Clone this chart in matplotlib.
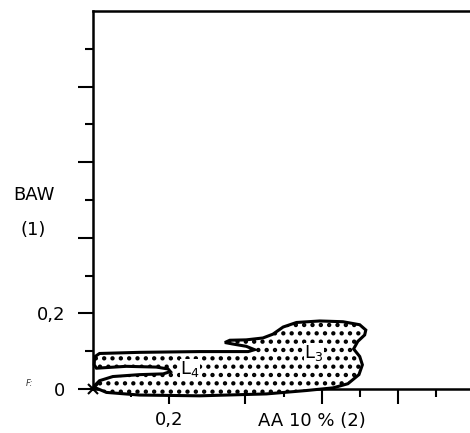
import matplotlib
matplotlib.use("Agg")
import matplotlib.pyplot as plt
from matplotlib.patches import Polygon

# Outline of the dotted region (L3 + L4)
region_x = [0.002, 0.035, 0.122, 0.280, 0.455, 0.560, 0.630, 0.669, 0.698, 0.707,
            0.700, 0.684, 0.695, 0.713, 0.716, 0.700, 0.656, 0.595, 0.534, 0.499,
            0.472, 0.446, 0.402, 0.359, 0.346, 0.367, 0.402, 0.424, 0.407, 0.280,
            0.122, 0.017, 0.004, 0.003, 0.009, 0.087, 0.166, 0.197, 0.203, 0.184,
            0.122, 0.052, 0.017, 0.003]
region_y = [0.005, -0.009, -0.016, -0.018, -0.013, -0.004, 0.003, 0.014, 0.038, 0.064,
            0.086, 0.106, 0.126, 0.143, 0.156, 0.170, 0.178, 0.180, 0.176, 0.164,
            0.145, 0.135, 0.130, 0.129, 0.123, 0.119, 0.113, 0.104, 0.099, 0.099,
            0.097, 0.094, 0.085, 0.064, 0.055, 0.060, 0.058, 0.053, 0.046, 0.040,
            0.038, 0.033, 0.022, 0.008]

region_labels = ["L$_4$", "L$_3$"]
label_x = [0.255, 0.580]
label_y = [0.052, 0.095]

y_ticks = [0.0, 0.2, 0.4, 0.6, 0.8]
y_tick_labels = ["0", "0,2", "", "", ""]
x_ticks = [0.2, 0.4, 0.6, 0.8]
x_tick_labels = ["0,2", "", "", ""]
minor_ticks = [0.1, 0.3, 0.5, 0.7, 0.9]

plt.rcParams["font.family"] = ["DejaVu Sans"]
plt.rcParams["hatch.linewidth"] = 1.9

fig = plt.figure(figsize=(4.7, 4.33), dpi=100)
ax = fig.add_axes([0.198, 0.1016, 0.802, 0.873])

# dotted region
poly = Polygon(list(zip(region_x, region_y)), closed=True, facecolor="white",
               edgecolor="black", linewidth=2.2, hatch="..", clip_on=False, zorder=3)
ax.add_patch(poly)

for txt, lx, ly in zip(region_labels, label_x, label_y):
    ax.text(lx, ly, txt, fontsize=13, ha="center", va="center", zorder=4,
            bbox=dict(facecolor="white", edgecolor="none", pad=0.2))

# origin cross
ax.plot([0], [0], marker="x", color="black", markersize=7, mew=1.5,
        clip_on=False, zorder=5)

ax.set_xlim(0, 0.9895)
ax.set_ylim(0, 1.0)

ax.set_xticks(x_ticks)
ax.set_xticklabels(x_tick_labels, fontsize=13)
ax.set_yticks(y_ticks)
ax.set_yticklabels(y_tick_labels, fontsize=13)
ax.set_xticks(minor_ticks, minor=True)
ax.set_yticks(minor_ticks, minor=True)
ax.tick_params(which="major", direction="out", length=11, width=1.5)
ax.tick_params(which="minor", direction="out", length=5.5, width=1.5)
ax.tick_params(axis="y", which="major", pad=9)
ax.tick_params(axis="x", which="major", pad=5)

ax.spines["right"].set_visible(False)
for s in ["left", "bottom", "top"]:
    ax.spines[s].set_linewidth(1.8)

# axis labels placed as in the original
ax.text(0.575, -0.085, "AA 10 % (2)", fontsize=13, ha="center", va="center",
        transform=ax.transData, clip_on=False)
fig.text(34 / 470, 1 - 195 / 433, "BAW", fontsize=13, ha="center", va="center")
fig.text(33 / 470, 1 - 230 / 433, "(1)", fontsize=13, ha="center", va="center")
fig.text(30 / 470, 1 - 383 / 433, "F:", fontsize=6, ha="center", va="center",
         style="italic", color="#333333")

fig.savefig("out.png", dpi=100)
